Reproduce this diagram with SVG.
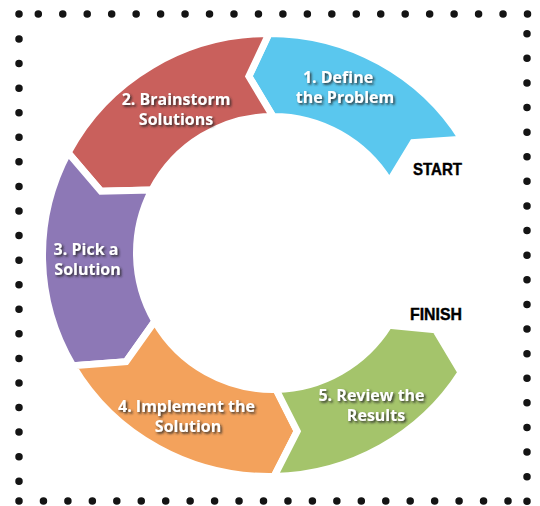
<svg xmlns="http://www.w3.org/2000/svg" width="540" height="506" viewBox="0 0 540 506">
  <defs>
    <filter id="txtShadow" x="-10%" y="-30%" width="130%" height="170%">
      <feDropShadow dx="1.6" dy="1.7" stdDeviation="1.1" flood-color="#202020" flood-opacity="0.9"/>
    </filter>
  </defs>
  <style>
    .dots { fill: none; stroke: #141414; stroke-width: 7.5; stroke-linecap: round; }
    .seg { stroke: #ffffff; stroke-width: 7; stroke-linejoin: miter; stroke-miterlimit: 10; }
    .lbl { font-family: "Open Sans", "Noto Sans", "Liberation Sans", sans-serif; font-weight: 700; font-size: 16px; fill: #ffffff; text-anchor: middle; filter: url(#txtShadow); }
    .mark { font-family: "Liberation Sans", Arial, sans-serif; font-weight: 700; font-size: 16.5px; fill: #000000; stroke: #000000; stroke-width: 0.4; }
  </style>

  <rect width="540" height="506" fill="#ffffff"/>

  <!-- dotted frame -->
  <g id="frame">
    <circle cx="19" cy="14" r="3.75" fill="#141414"/>
    <path class="dots" d="M38.3 14 H527.6" stroke-dasharray="0 24.46"/>
    <path class="dots" d="M527 33.7 V501.5" stroke-dasharray="0 24.61"/>
    <path class="dots" d="M19 501 H508.2" stroke-dasharray="0 24.45"/>
    <path class="dots" d="M19 39 V481.5" stroke-dasharray="0 24.57"/>
  </g>

  <!-- cycle steps -->
  <g id="step1-define">
    <path class="seg" fill="#5AC7EE" d="M462.12 139.27 A226.5 221.5 0 0 0 269 33.5 L248.88 76.33 L273 116.5 A136.5 136.5 0 0 1 389.39 181.68 L413.04 142.57 Z"/>
    <text class="lbl" x="338" y="83">1. Define</text>
    <text class="lbl" x="345" y="103">the Problem</text>
  </g>

  <g id="step2-brainstorm">
    <path class="seg" fill="#C9605C" d="M269 33.5 A226.5 221.5 0 0 0 68.09 152.72 L100.99 191.31 L151.92 189.97 A136.5 136.5 0 0 1 273 116.5 L248.88 76.33 Z"/>
    <text class="lbl" x="176" y="105">2. Brainstorm</text>
    <text class="lbl" x="176" y="125">Solutions</text>
  </g>

  <g id="step3-pick">
    <path class="seg" fill="#8D78B6" d="M68.09 152.72 A226.5 221.5 0 0 0 72.84 365.75 L126.05 361.73 L154.79 321.25 A136.5 136.5 0 0 1 151.92 189.97 L100.99 191.31 Z"/>
    <text class="lbl" x="86" y="255">3. Pick a</text>
    <text class="lbl" x="87.5" y="275">Solution</text>
  </g>

  <g id="step4-implement">
    <path class="seg" fill="#F3A25C" d="M72.84 365.75 A226.5 221.5 0 0 0 274.14 476.44 L297.2 431.13 L276.1 389.46 A136.5 136.5 0 0 1 154.79 321.25 L126.05 361.73 Z"/>
    <text class="lbl" x="186.5" y="412">4. Implement the</text>
    <text class="lbl" x="188" y="432">Solution</text>
  </g>

  <g id="step5-review">
    <path class="seg" fill="#A4C46B" d="M274.14 476.44 A226.5 221.5 0 0 0 461.08 372.38 L435.5 329.65 L388.76 325.33 A136.5 136.5 0 0 1 276.1 389.46 L297.2 431.13 Z"/>
    <text class="lbl" x="371.5" y="401">5. Review the</text>
    <text class="lbl" x="376" y="421">Results</text>
  </g>

  <!-- start / end markers -->
  <g id="start-label">
    <text class="mark" x="413" y="175" textLength="49" lengthAdjust="spacingAndGlyphs">START</text>
  </g>
  <g id="finish-label">
    <text class="mark" x="410" y="320" textLength="52" lengthAdjust="spacingAndGlyphs">FINISH</text>
  </g>
</svg>
